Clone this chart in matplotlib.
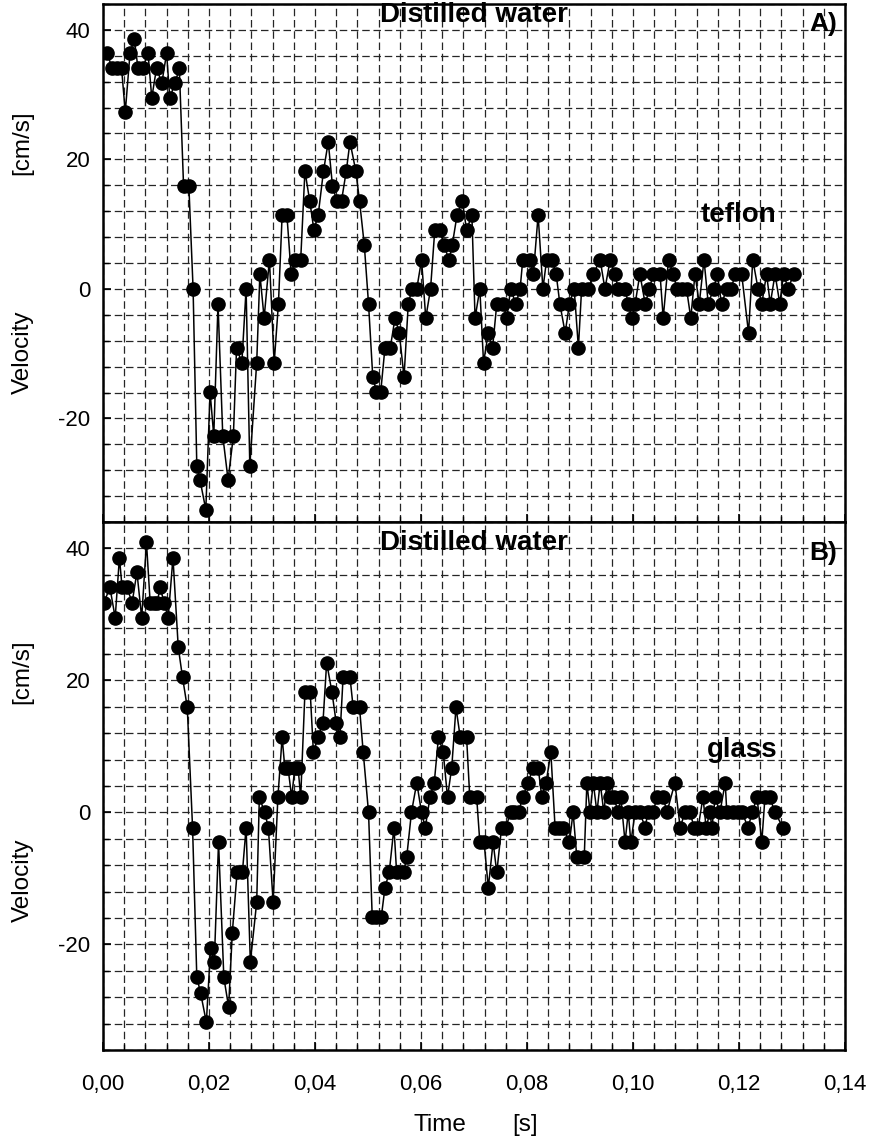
import matplotlib.pyplot as plt
import numpy as np
from matplotlib.ticker import MultipleLocator, FuncFormatter

plt.rcParams['font.family'] = ['Liberation Sans', 'DejaVu Sans']
plt.rcParams['axes.unicode_minus'] = False

# time in ms, velocity in cm/s
teflon_t = [0.8, 1.7, 2.6, 3.5, 4.2, 5.1, 5.9, 6.6, 7.5, 8.5,
            9.2, 10.1, 11.1, 12.0, 12.6, 13.6, 14.4, 15.2, 16.2, 17.0,
            17.7, 18.3, 19.4, 20.2, 20.9, 21.7, 22.6, 23.6, 24.6, 25.2,
            26.2, 27.0, 27.7, 29.0, 29.6, 30.4, 31.4, 32.3, 33.1, 33.8,
            34.7, 35.5, 36.3, 37.3, 38.1, 39.0, 39.8, 40.6, 41.6, 42.5,
            43.3, 44.1, 45.0, 45.9, 46.6, 47.7, 48.4, 49.3, 50.1, 50.9,
            51.6, 52.4, 53.2, 54.2, 55.1, 55.9, 56.8, 57.6, 58.3, 59.2,
            60.1, 60.9, 61.8, 62.6, 63.6, 64.3, 65.3, 65.9, 66.8, 67.8,
            68.6, 69.6, 70.2, 71.1, 71.8, 72.7, 73.5, 74.3, 75.5, 76.2,
            76.9, 77.9, 78.7, 79.2, 80.6, 81.2, 82.1, 83.0, 83.7, 84.7,
            85.5, 86.2, 87.2, 88.0, 88.9, 89.7, 90.3, 91.6, 92.5, 93.8,
            94.7, 95.7, 96.6, 97.2, 98.5, 99.1, 99.8, 100.4, 101.3, 102.3,
            103.1, 103.8, 105.1, 105.7, 106.7, 107.6, 108.3, 109.2, 110.1, 110.9,
            111.7, 112.5, 113.4, 114.2, 115.2, 115.9, 116.7, 117.7, 118.5, 119.3,
            120.5, 121.8, 122.6, 123.6, 124.3, 125.2, 125.9, 126.8, 127.7, 128.4,
            129.3, 130.3]
teflon_v = [36.4, 34.1, 34.1, 34.1, 27.3, 36.4, 38.6, 34.1, 34.1, 36.4,
            29.5, 34.1, 31.8, 36.4, 29.5, 31.8, 34.1, 15.9, 15.9, 0,
            -27.3, -29.5, -34.1, -15.9, -22.7, -2.3, -22.7, -29.5, -22.7, -9.1,
            -11.4, 0, -27.3, -11.4, 2.3, -4.5, 4.5, -11.4, -2.3, 11.4,
            11.4, 2.3, 4.5, 4.5, 18.2, 13.6, 9.1, 11.4, 18.2, 22.7,
            15.9, 13.6, 13.6, 18.2, 22.7, 18.2, 13.6, 6.8, -2.3, -13.6,
            -15.9, -15.9, -9.1, -9.1, -4.5, -6.8, -13.6, -2.3, 0, 0,
            4.5, -4.5, 0, 9.1, 9.1, 6.8, 4.5, 6.8, 11.4, 13.6,
            9.1, 11.4, -4.5, 0, -11.4, -6.8, -9.1, -2.3, -2.3, -4.5,
            0, -2.3, 0, 4.5, 4.5, 2.3, 11.4, 0, 4.5, 4.5,
            2.3, -2.3, -6.8, -2.3, 0, -9.1, 0, 0, 2.3, 4.5,
            0, 4.5, 2.3, 0, 0, -2.3, -4.5, -2.3, 2.3, -2.3,
            0, 2.3, 2.3, -4.5, 4.5, 2.3, 0, 0, 0, -4.5,
            2.3, -2.3, 4.5, -2.3, 0, 2.3, -2.3, 0, 0, 2.3,
            2.3, -6.8, 4.5, 0, -2.3, 2.3, -2.3, 2.3, -2.3, 2.3,
            0, 2.3]

glass_t = [0.2, 1.3, 2.3, 3.1, 3.6, 4.5, 5.5, 6.4, 7.3, 8.2,
           8.9, 9.6, 10.2, 10.8, 11.5, 12.3, 13.2, 14.2, 15.0, 15.9,
           16.9, 17.7, 18.4, 19.5, 20.3, 21.0, 21.8, 22.8, 23.7, 24.4,
           25.3, 26.3, 27.0, 27.8, 29.0, 29.5, 30.5, 31.2, 32.1, 33.0,
           33.8, 34.3, 34.9, 35.6, 36.2, 36.8, 37.3, 38.1, 39.1, 39.7,
           40.6, 41.5, 42.2, 43.2, 44.0, 44.7, 45.3, 46.6, 47.2, 48.4,
           49.1, 50.1, 50.8, 51.6, 52.5, 53.2, 54.0, 54.9, 55.4, 56.7,
           57.3, 58.2, 59.2, 60.1, 60.8, 61.7, 62.5, 63.3, 64.2, 65.0,
           65.8, 66.6, 67.4, 68.6, 69.2, 70.5, 71.1, 71.9, 72.7, 73.6,
           74.3, 75.2, 76.0, 76.9, 77.6, 78.4, 79.2, 80.2, 81.2, 82.1,
           82.8, 83.6, 84.5, 85.3, 86.0, 86.8, 88.0, 88.7, 89.4, 90.8,
           91.3, 91.9, 92.5, 93.2, 93.8, 94.5, 95.1, 95.7, 96.4, 97.2,
           97.7, 98.5, 99.1, 99.6, 100.4, 101.3, 102.3, 102.8, 103.8, 104.5,
           105.7, 106.4, 107.9, 108.9, 109.8, 110.8, 111.5, 112.3, 113.2, 113.8,
           114.5, 114.9, 115.5, 116.4, 117.4, 117.7, 118.9, 119.8, 120.6, 121.7,
           122.5, 123.4, 124.3, 124.9, 125.8, 126.8, 128.3]
glass_v = [31.8, 34.1, 29.5, 38.6, 34.1, 34.1, 31.8, 36.4, 29.5, 40.9,
           31.8, 31.8, 31.8, 34.1, 31.8, 29.5, 38.6, 25.0, 20.5, 15.9,
           -2.3, -25.0, -27.3, -31.8, -20.5, -22.7, -4.5, -25.0, -29.5, -18.2,
           -9.1, -9.1, -2.3, -22.7, -13.6, 2.3, 0, -2.3, -13.6, 2.3,
           11.4, 6.8, 6.8, 2.3, 6.8, 6.8, 2.3, 18.2, 18.2, 9.1,
           11.4, 13.6, 22.7, 18.2, 13.6, 11.4, 20.5, 20.5, 15.9, 15.9,
           9.1, 0, -15.9, -15.9, -15.9, -11.4, -9.1, -2.3, -9.1, -9.1,
           -6.8, 0, 4.5, 0, -2.3, 2.3, 4.5, 11.4, 9.1, 2.3,
           6.8, 15.9, 11.4, 11.4, 2.3, 2.3, -4.5, -4.5, -11.4, -4.5,
           -9.1, -2.3, -2.3, 0, 0, 0, 2.3, 4.5, 6.8, 6.8,
           2.3, 4.5, 9.1, -2.3, -2.3, -2.3, -4.5, 0, -6.8, -6.8,
           4.5, 0, 4.5, 0, 4.5, 0, 4.5, 2.3, 2.3, 0,
           2.3, -4.5, 0, -4.5, 0, 0, -2.3, 0, 0, 2.3,
           2.3, 0, 4.5, -2.3, 0, 0, -2.3, -2.3, 2.3, -2.3,
           0, -2.3, 2.3, 0, 4.5, 0, 0, 0, 0, -2.3,
           0, 2.3, -4.5, 2.3, 2.3, 0, -2.3]

W, H = 871, 1146
fig = plt.figure(figsize=(W / 100, H / 100), dpi=100)
# pixel boxes (left, top, right, bottom) of the two panels
ax_top = fig.add_axes([103 / W, 1 - 522 / H, 742 / W, 518 / H])
ax_bot = fig.add_axes([103 / W, 1 - 1050 / H, 742 / W, 528 / H])

panels = [
    (ax_top, teflon_t, teflon_v, "teflon", "A)", 0.979, (0.856, 0.593)),
    (ax_bot, glass_t, glass_v, "glass", "B)", 0.960, (0.861, 0.568)),
]

comma = FuncFormatter(lambda x, pos: f"{x:.2f}".replace(".", ","))

for ax, t, v, surface, tag, ytitle, spos in panels:
    ax.plot(np.array(t) / 1000.0, v, "-o", color="black", lw=1.1,
            ms=9.5, zorder=3)
    ax.set_xlim(0, 0.14)
    ax.set_ylim(-36, 44)
    ax.xaxis.set_major_locator(MultipleLocator(0.02))
    ax.xaxis.set_minor_locator(MultipleLocator(0.004))
    ax.yaxis.set_major_locator(MultipleLocator(20))
    ax.yaxis.set_minor_locator(MultipleLocator(4))
    ax.xaxis.set_major_formatter(comma)
    ax.grid(which="both", color="0.15", lw=0.9, ls=(0, (6, 3)))
    ax.set_axisbelow(True)
    ax.tick_params(which="both", direction="in", labelsize=16)
    ax.tick_params(axis="y", pad=9)
    ax.tick_params(axis="x", pad=17)
    ax.tick_params(which="major", length=6, width=1.2)
    ax.tick_params(which="minor", length=4, width=1.0)
    for s in ax.spines.values():
        s.set_linewidth(1.8)
    ax.text(0.5, ytitle, "Distilled water", transform=ax.transAxes,
            ha="center", va="center", fontsize=20, fontweight="bold")
    ax.text(0.99, ytitle - 0.018, tag, transform=ax.transAxes,
            ha="right", va="center", fontsize=19, fontweight="bold")
    ax.text(spos[0], spos[1], surface, transform=ax.transAxes,
            ha="center", va="center", fontsize=20, fontweight="bold")

ax_top.tick_params(labelbottom=False)

# y labels, split as in the original
for yc_vel, yc_unit in [(352, 143), (880, 672)]:
    fig.text(0.026, 1 - yc_vel / H, "Velocity", rotation=90, ha="center",
             va="center", fontsize=17.5)
    fig.text(0.026, 1 - yc_unit / H, "[cm/s]", rotation=90, ha="center",
             va="center", fontsize=17.5)

fig.text(440 / W, 1 - 1125 / H, "Time", ha="center", va="center",
         fontsize=17.5)
fig.text(525 / W, 1 - 1125 / H, "[s]", ha="center", va="center",
         fontsize=17.5)

fig.savefig("out.png", dpi=100)
